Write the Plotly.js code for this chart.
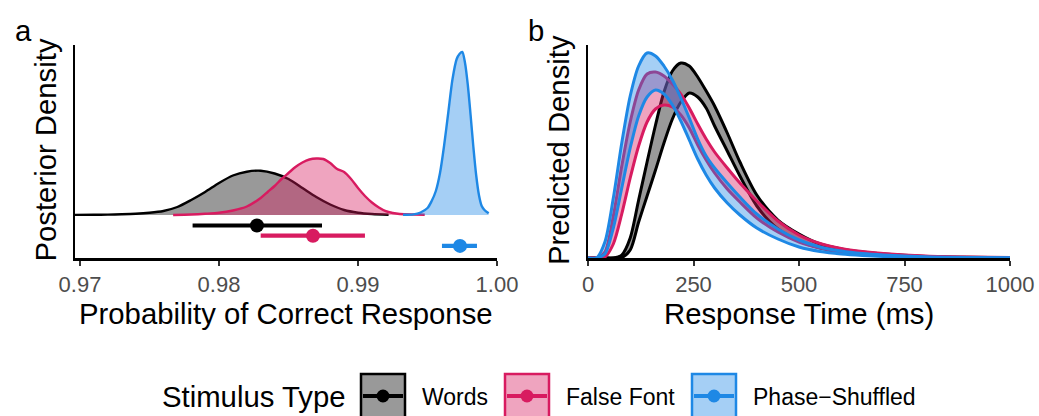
<!DOCTYPE html>
<html>
<head>
<meta charset="utf-8">
<script src="https://cdn.plot.ly/plotly-3.0.1.min.js"></script>
<style>
  html, body { margin: 0; padding: 0; background: #ffffff; }
  #chart { width: 1039px; height: 416px; }
</style>
</head>
<body>
<div id="chart"></div>
<script>
// ---- Panel a: posterior of the probability of a correct response ----
const wordsProbX = [0.9696, 0.9710, 0.9720, 0.9730, 0.9740, 0.9750, 0.9760, 0.9770, 0.9780, 0.9790, 0.9800, 0.9810,
                    0.9820, 0.9830, 0.9840, 0.9850, 0.9860, 0.9870, 0.9880, 0.9890, 0.9900, 0.9910, 0.9922];
const wordsProbDens = [0.1, 0.2, 0.4, 0.7, 1.2, 2.2, 4, 8, 15, 23, 32, 39.5,
                       43.3, 44.3, 41.5, 36, 27, 18, 10.5, 5, 2.3, 1, 0.3];

const falseFontProbX = [0.9767, 0.9780, 0.9790, 0.9800, 0.9810, 0.9820, 0.9830, 0.9835, 0.9840, 0.9845, 0.9850,
                        0.9855, 0.9860, 0.9865, 0.9870, 0.9875, 0.9880, 0.9885, 0.9890, 0.9895, 0.9900, 0.9905,
                        0.9910, 0.9915, 0.9920, 0.9925, 0.9930, 0.9940, 0.9948];
const falseFontProbDens = [0, 0.5, 1.2, 2.2, 4.5, 8.5, 17, 23, 29, 36, 42,
                           48, 52.5, 55.5, 56.5, 56, 52, 46, 43, 36, 27, 19,
                           12.5, 7.5, 3.8, 2, 1, 0.5, 0.3];

const phaseProbX = [0.99324, 0.9940, 0.9945, 0.9950, 0.9953, 0.9956, 0.9959, 0.9962, 0.9965, 0.9968, 0.9971,
                    0.9973, 0.9975, 0.9977, 0.9979, 0.9981, 0.9983, 0.9985, 0.9987, 0.9989, 0.9991, 0.9994];
const phaseProbDens = [0.2, 0.6, 2.5, 7, 14, 24, 42, 70, 103, 136, 156,
                       161, 163, 152, 130, 100, 68, 40, 20, 9, 5, 1.7];

// point estimates with interval bounds
const probEstimate = [0.98273, 0.98676, 0.99734];
const probLower    = [0.9781, 0.9830, 0.99604];
const probUpper    = [0.98741, 0.9905, 0.99856];

// ---- Panel b: predicted response-time densities (lower / upper band) ----
const rtGrid = [0, 20, 40, 60, 80, 100, 120, 140, 160, 180, 200, 220, 240, 260, 280, 300,
                330, 360, 400, 450, 500, 550, 600, 650, 700, 800, 900, 1000];

const wordsRtLower = [0, 0, 0, 0, 0.5, 8, 36, 62, 88, 115, 139, 156, 165, 161, 150, 132,
                      107, 82, 52, 29, 17, 10, 6, 4, 2.6, 1, 0.4, 0.15];
const wordsRtUpper = [0, 0, 0, 0, 3, 20, 58, 96, 133, 166, 187, 195, 192, 181, 167, 152,
                      125, 96, 63, 38, 24, 14, 9, 6, 4, 1.6, 0.7, 0.3];

const falseFontRtLower = [0, 0, 1, 14, 44, 80, 112, 136, 149, 153, 151, 143, 130, 113, 98, 85,
                          69, 56, 40, 26, 16, 10, 6.2, 4, 2.7, 1.1, 0.45, 0.18];
const falseFontRtUpper = [0, 0, 6, 42, 92, 136, 168, 184, 186, 182, 174, 164, 150, 134, 119, 106,
                          90, 75, 57, 37, 23, 14.5, 9.5, 6.5, 4.5, 2, 0.9, 0.4];

const phaseRtLower = [0, 0, 4, 30, 70, 110, 142, 161, 168, 164, 153, 137, 118, 99, 83, 70,
                      55, 43, 30, 19, 11, 6.5, 4, 2.5, 1.5, 0.6, 0.25, 0.1];
const phaseRtUpper = [0, 0, 16, 60, 115, 162, 192, 205, 202, 192, 178, 160, 140, 119, 102, 90,
                      75, 61, 44, 29, 18, 11, 7, 4.5, 3, 1.2, 0.5, 0.2];

const probTicks = [0.97, 0.98, 0.99, 1.00];
const rtTicks = [0, 250, 500, 750, 1000];

const groupNames = ['Words', 'False Font', 'Phase\u2212Shuffled'];
const lineColors = ['#000000', '#D81B60', '#1E88E5'];
const fillColors = ['rgba(0,0,0,0.4)', 'rgba(216,27,96,0.4)', 'rgba(30,136,229,0.4)'];

// ---- page geometry ----
const W = 1039, H = 416;
const px = p => p / W;
const py = p => (H - p) / H;
const FONT = 'Liberation Sans, Arial, Helvetica, sans-serif';
const TITLE_SIZE = 29.3;

const traces = [];

// Panel a densities
const probSeries = [[wordsProbX, wordsProbDens], [falseFontProbX, falseFontProbDens], [phaseProbX, phaseProbDens]];
probSeries.forEach((s, i) => {
  traces.push({
    x: s[0], y: s[1], xaxis: 'x', yaxis: 'y',
    type: 'scatter', mode: 'lines', fill: 'tozeroy',
    fillcolor: fillColors[i],
    line: { color: lineColors[i], width: 2.4, shape: 'spline', smoothing: 0.8 },
    showlegend: false, hoverinfo: 'skip'
  });
});

// Panel a point estimates with intervals, stacked below the densities
probEstimate.forEach((est, i) => {
  traces.push({
    x: [est], y: [-10.5 - 10.2 * i], xaxis: 'x', yaxis: 'y',
    type: 'scatter', mode: 'markers',
    marker: { color: lineColors[i], size: 14 },
    error_x: {
      type: 'data', symmetric: false,
      array: [probUpper[i] - est], arrayminus: [est - probLower[i]],
      color: lineColors[i], thickness: 4.2, width: 0
    },
    showlegend: false, hoverinfo: 'skip'
  });
});

// Panel b bands
const rtBands = [[wordsRtLower, wordsRtUpper], [falseFontRtLower, falseFontRtUpper], [phaseRtLower, phaseRtUpper]];
rtBands.forEach((b, i) => {
  traces.push({
    x: rtGrid, y: b[0], xaxis: 'x2', yaxis: 'y2',
    type: 'scatter', mode: 'lines',
    line: { color: lineColors[i], width: 3, shape: 'spline', smoothing: 0.8 },
    showlegend: false, hoverinfo: 'skip'
  });
  traces.push({
    x: rtGrid, y: b[1], xaxis: 'x2', yaxis: 'y2',
    type: 'scatter', mode: 'lines', fill: 'tonexty',
    fillcolor: fillColors[i],
    line: { color: lineColors[i], width: 3, shape: 'spline', smoothing: 0.8 },
    showlegend: false, hoverinfo: 'skip'
  });
});

const xAxisBase = {
  showline: true, linecolor: '#000000', linewidth: 2.5,
  ticks: 'outside', ticklen: 5, tickwidth: 2, tickcolor: '#333333',
  tickfont: { family: FONT, size: 22, color: '#4d4d4d' },
  showgrid: false, zeroline: false, fixedrange: true
};
const yAxisBase = {
  showline: true, linecolor: '#000000', linewidth: 2.5,
  ticks: '', showticklabels: false,
  showgrid: false, zeroline: false, fixedrange: true,
  domain: [py(258), py(45)]
};

const annotations = [
  { text: 'a', x: px(13), y: py(31), xanchor: 'left', yanchor: 'middle', size: TITLE_SIZE },
  { text: 'b', x: px(526), y: py(31), xanchor: 'left', yanchor: 'middle', size: TITLE_SIZE },
  { text: 'Probability of Correct Response', x: px(286), y: py(313), xanchor: 'center', yanchor: 'middle', size: TITLE_SIZE },
  { text: 'Response Time (ms)', x: px(799), y: py(313), xanchor: 'center', yanchor: 'middle', size: TITLE_SIZE },
  { text: 'Posterior Density', x: px(44.5), y: py(150), xanchor: 'center', yanchor: 'middle', size: TITLE_SIZE, angle: -90 },
  { text: 'Predicted Density', x: px(558), y: py(150), xanchor: 'center', yanchor: 'middle', size: TITLE_SIZE, angle: -90 },
  { text: 'Stimulus Type', x: px(160), y: py(396), xanchor: 'left', yanchor: 'middle', size: TITLE_SIZE }
].map(a => ({
  text: a.text, x: a.x, y: a.y, xref: 'paper', yref: 'paper',
  xanchor: a.xanchor, yanchor: a.yanchor, showarrow: false,
  textangle: a.angle || 0,
  font: { family: FONT, size: a.size, color: '#000000' }
}));

// Legend keys: boxed swatch with a line and dot, then the group label
const shapes = [];
const keyLeft = [361, 505, 692];
const labelLeft = [420, 564, 751];
const keySize = 44, keyTop = 374, keyMid = 396;
groupNames.forEach((name, i) => {
  const x0 = keyLeft[i], x1 = keyLeft[i] + keySize, cx = (x0 + x1) / 2;
  shapes.push({
    type: 'rect', xref: 'paper', yref: 'paper',
    x0: px(x0), x1: px(x1), y0: py(keyTop + keySize), y1: py(keyTop),
    fillcolor: fillColors[i], line: { color: lineColors[i], width: 2.5 }, layer: 'above'
  });
  shapes.push({
    type: 'line', xref: 'paper', yref: 'paper',
    x0: px(x0 + 2), x1: px(x1 - 2), y0: py(keyMid), y1: py(keyMid),
    line: { color: lineColors[i], width: 4.2 }, layer: 'above'
  });
  shapes.push({
    type: 'circle', xref: 'paper', yref: 'paper',
    x0: px(cx - 6.5), x1: px(cx + 6.5), y0: py(keyMid + 6.5), y1: py(keyMid - 6.5),
    fillcolor: lineColors[i], line: { color: lineColors[i], width: 0 }, layer: 'above'
  });
  annotations.push({
    text: name, x: px(labelLeft[i]), y: py(396.5), xref: 'paper', yref: 'paper',
    xanchor: 'left', yanchor: 'middle', showarrow: false,
    font: { family: FONT, size: 23, color: '#000000' }
  });
});

const layout = {
  width: W, height: H,
  margin: { l: 0, r: 0, t: 0, b: 0, pad: 0 },
  paper_bgcolor: '#ffffff', plot_bgcolor: '#ffffff',
  showlegend: false, hovermode: false,
  xaxis: Object.assign({}, xAxisBase, {
    domain: [px(75), px(497)], range: [0.96964, 1.0],
    tickvals: probTicks, ticktext: probTicks.map(v => v.toFixed(2)), anchor: 'y'
  }),
  yaxis: Object.assign({}, yAxisBase, { range: [-43, 170], anchor: 'x' }),
  xaxis2: Object.assign({}, xAxisBase, {
    domain: [px(588), px(1010)], range: [0, 1000],
    tickvals: rtTicks, ticktext: rtTicks.map(String), anchor: 'y2'
  }),
  yaxis2: Object.assign({}, yAxisBase, { range: [0, 213], anchor: 'x2' }),
  annotations: annotations,
  shapes: shapes
};

Plotly.newPlot('chart', traces, layout, { staticPlot: true, displayModeBar: false });
</script>
</body>
</html>
